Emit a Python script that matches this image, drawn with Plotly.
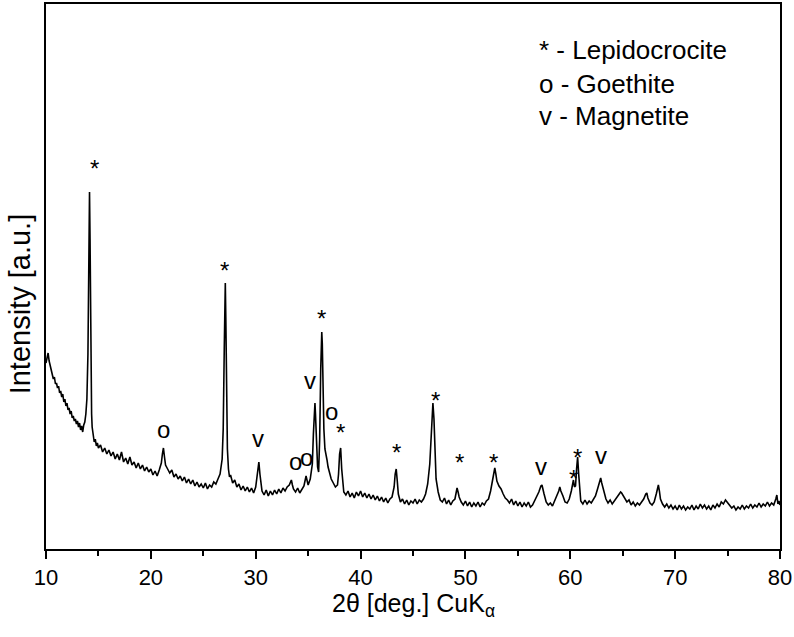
import plotly.graph_objects as go

# ---------------- data ----------------
two_theta = [
    10.0, 10.1, 10.2, 10.3, 10.4, 10.5, 10.6, 10.7, 10.8, 10.9,
    11.0, 11.1, 11.2, 11.3, 11.4, 11.5, 11.6, 11.7, 11.8, 11.9,
    12.0, 12.1, 12.2, 12.3, 12.4, 12.5, 12.6, 12.7, 12.8, 12.9,
    13.0, 13.1, 13.2, 13.3, 13.4, 13.5, 13.6, 13.7, 13.8, 13.9,
    14.0, 14.05, 14.1, 14.15, 14.2, 14.25, 14.3, 14.35, 14.4, 14.5,
    14.6, 14.7, 14.8, 14.9,
    15.0, 15.2, 15.4, 15.6, 15.8, 16.0, 16.2, 16.4, 16.6, 16.8,
    17.0, 17.2, 17.4, 17.6, 17.8, 18.0, 18.2, 18.4, 18.6, 18.8,
    19.0, 19.2, 19.4, 19.6, 19.8, 20.0, 20.2, 20.4, 20.6, 20.8,
    21.0, 21.1, 21.2, 21.3, 21.4, 21.6, 21.8, 22.0, 22.2, 22.4,
    22.6, 22.8, 23.0, 23.2, 23.4, 23.6, 23.8, 24.0, 24.2, 24.4,
    24.6, 24.8, 25.0, 25.2, 25.4, 25.6, 25.8, 26.0, 26.2, 26.4,
    26.6, 26.8, 26.9, 27.0, 27.05, 27.1, 27.15, 27.2, 27.3, 27.4,
    27.5, 27.6, 27.8, 28.0, 28.2, 28.4, 28.6, 28.8, 29.0, 29.2,
    29.4, 29.6, 29.8, 30.0, 30.1, 30.2, 30.3, 30.4, 30.5, 30.6,
    30.8, 31.0, 31.2, 31.4, 31.6, 31.8, 32.0, 32.2, 32.4, 32.6,
    32.8, 33.0, 33.2, 33.4, 33.5, 33.6, 33.8, 34.0, 34.2, 34.4,
    34.6, 34.8, 34.9, 35.0, 35.2, 35.4, 35.5, 35.6, 35.65, 35.7,
    35.8, 35.9, 36.0, 36.1, 36.2, 36.3, 36.35, 36.4, 36.5, 36.6,
    36.7, 36.8, 36.9, 37.0, 37.2, 37.4, 37.6, 37.8, 37.9, 38.0,
    38.1, 38.2, 38.3, 38.4, 38.6, 38.8, 39.0, 39.2, 39.4, 39.6,
    39.8, 40.0, 40.2, 40.4, 40.6, 40.8, 41.0, 41.2, 41.4, 41.6,
    41.8, 42.0, 42.2, 42.4, 42.6, 42.8, 43.0, 43.2, 43.3, 43.4,
    43.5, 43.6, 43.8, 44.0, 44.2, 44.4, 44.6, 44.8, 45.0, 45.2,
    45.4, 45.6, 45.8, 46.0, 46.2, 46.4, 46.6, 46.7, 46.8, 46.9,
    47.0, 47.1, 47.2, 47.4, 47.6, 47.8, 48.0, 48.2, 48.4, 48.6,
    48.8, 49.0, 49.2, 49.3, 49.4, 49.6, 49.8, 50.0, 50.2, 50.4,
    50.6, 50.8, 51.0, 51.2, 51.4, 51.6, 51.8, 52.0, 52.2, 52.4,
    52.6, 52.8, 52.9, 53.0, 53.2, 53.4, 53.6, 53.8, 54.0, 54.2,
    54.4, 54.6, 54.8, 55.0, 55.2, 55.4, 55.6, 55.8, 56.0, 56.2,
    56.4, 56.6, 56.8, 57.0, 57.2, 57.3, 57.5, 57.7, 57.9, 58.1,
    58.3, 58.5, 58.7, 58.9, 59.0, 59.1, 59.3, 59.5, 59.7, 59.9,
    60.1, 60.3, 60.4, 60.5, 60.6, 60.7, 60.8, 60.9, 61.0, 61.2,
    61.4, 61.6, 61.8, 62.0, 62.2, 62.4, 62.6, 62.8, 62.9, 63.0,
    63.2, 63.4, 63.6, 63.8, 64.0, 64.2, 64.4, 64.6, 64.8, 64.9,
    65.0, 65.2, 65.4, 65.6, 65.8, 66.0, 66.2, 66.4, 66.6, 66.8,
    67.0, 67.2, 67.3, 67.4, 67.6, 67.8, 68.0, 68.2, 68.4, 68.5,
    68.6, 68.8, 69.0, 69.2, 69.4, 69.6, 69.8, 70.0, 70.2, 70.4,
    70.6, 70.8, 71.0, 71.2, 71.4, 71.6, 71.8, 72.0, 72.2, 72.4,
    72.6, 72.8, 73.0, 73.2, 73.4, 73.6, 73.8, 74.0, 74.2, 74.4,
    74.6, 74.8, 75.0, 75.2, 75.4, 75.6, 75.8, 76.0, 76.2, 76.4,
    76.6, 76.8, 77.0, 77.2, 77.4, 77.6, 77.8, 78.0, 78.2, 78.4,
    78.6, 78.8, 79.0, 79.2, 79.4, 79.6, 79.7, 79.8, 79.9, 80.0,
]

intensity = [
    186, 192, 196, 188, 183, 178, 176, 170, 172, 165,
    166, 161, 163, 156, 158, 152, 155, 147, 150, 143,
    146, 139, 141, 135, 138, 131, 133, 128, 130, 125,
    128, 122, 126, 119, 123, 117, 124, 127, 135, 150,
    195, 260, 330, 357, 310, 225, 165, 135, 122, 112,
    107, 110, 103, 106,
    101, 104, 97, 101, 95, 99, 93, 97, 90, 95,
    89, 97, 87, 91, 85, 92, 84, 87, 81, 86,
    80, 84, 78, 82, 77, 80, 74, 78, 73, 79,
    86, 95, 101, 92, 84, 80, 76, 79, 72, 75,
    70, 73, 68, 72, 66, 70, 65, 69, 63, 67,
    62, 65, 61, 66, 60, 64, 62, 67, 65, 70,
    75, 90, 120, 200, 245, 266, 230, 160, 100, 80,
    72, 74, 66, 69, 62, 65, 59, 63, 58, 62,
    57, 61, 56, 62, 70, 80, 87, 75, 63, 58,
    54, 59, 53, 58, 54, 59, 55, 60, 56, 61,
    58, 62, 64, 69, 64, 60, 57, 61, 56, 60,
    63, 73, 66, 64, 70, 85, 115, 143, 146, 135,
    100, 82, 77, 110, 180, 217, 205, 165, 120, 100,
    92, 89, 82, 78, 70, 66, 62, 64, 75, 95,
    101, 80, 64, 57, 54, 58, 52, 56, 51, 57,
    53, 58, 52, 56, 51, 55, 50, 54, 49, 53,
    48, 52, 47, 51, 46, 50, 52, 62, 75, 80,
    68, 55, 47, 50, 45, 49, 44, 48, 46, 50,
    45, 49, 47, 50, 55, 65, 85, 110, 135, 146,
    130, 95, 70, 57, 49, 47, 51, 45, 49, 44,
    48, 50, 61, 57, 52, 47, 44, 48, 43, 47,
    42, 46, 43, 47, 42, 46, 44, 48, 50, 58,
    70, 81, 75, 68, 63, 60, 55, 51, 49, 46,
    50, 44, 48, 43, 47, 42, 46, 43, 47, 42,
    44, 48, 52, 57, 63, 64, 55, 47, 44, 46,
    43, 48, 52, 58, 62, 58, 53, 47, 46, 50,
    58, 69, 62, 63, 80, 92, 75, 55, 48, 45,
    49, 45, 48, 46, 50, 53, 60, 68, 71, 66,
    57, 50, 46, 49, 45, 48, 50, 53, 57, 56,
    54, 50, 47, 49, 44, 47, 43, 46, 44, 47,
    50, 55, 56, 51, 46, 44, 47, 55, 64, 58,
    50, 45, 42, 45, 41, 44, 40, 43, 39, 44,
    40, 43, 39, 42, 40, 44, 39, 43, 40, 45,
    41, 44, 40, 43, 39, 44, 41, 45, 42, 47,
    45, 49, 46, 44, 41, 43, 39, 42, 40, 44,
    40, 43, 41, 45, 41, 44, 42, 46, 42, 45,
    43, 47, 43, 46, 44, 50, 54, 45, 48, 44,
]

# phase markers placed above the peaks
marker_symbols = ["*", "o", "*", "v", "o", "o", "v", "*", "o", "*",
                  "*", "*", "*", "*", "v", "*", "*", "v"]
marker_x = [14.67, 21.16, 27.07, 30.22, 33.75, 34.89, 35.18, 36.23, 37.27, 38.13,
            43.47, 47.19, 49.48, 52.72, 57.21, 60.26, 60.64, 62.93]
marker_y = [386, 118, 284, 109, 86, 90, 167, 236, 136, 122,
            102, 154, 92, 92, 81, 76, 97, 92]

legend_lines = ["* - Lepidocrocite", "o - Goethite", "v - Magnetite"]

x_title = "2θ [deg.] CuK<sub>α</sub>"
y_title = "Intensity [a.u.]"
x_ticks = [10, 20, 30, 40, 50, 60, 70, 80]

# ---------------- figure ----------------
FONT = "Liberation Sans, Arial, sans-serif"

fig = go.Figure()
fig.add_trace(go.Scatter(
    x=two_theta, y=intensity, mode="lines",
    line=dict(color="black", width=1.6),
    hoverinfo="skip", showlegend=False,
))

sym_shift = {"*": -5, "o": 2, "v": 2}
for s, mx, my in zip(marker_symbols, marker_x, marker_y):
    fig.add_annotation(x=mx, y=my, text=s, showarrow=False,
                       xanchor="center", yanchor="middle",
                       yshift=sym_shift[s],
                       font=dict(family=FONT, size=24, color="black"))

legend_y = [0.915, 0.853, 0.795]
for txt, ly in zip(legend_lines, legend_y):
    fig.add_annotation(x=0.669, y=ly, xref="paper", yref="paper",
                       text=txt, showarrow=False, xanchor="left",
                       yanchor="middle",
                       font=dict(family=FONT, size=26, color="black"))

# axis titles as annotations for precise placement
fig.add_annotation(x=0.5, y=-0.103, xref="paper", yref="paper",
                   text=x_title, showarrow=False,
                   xanchor="center", yanchor="middle",
                   font=dict(family=FONT, size=25, color="black"))
fig.add_annotation(x=-0.036, y=0.45, xref="paper", yref="paper",
                   text=y_title, showarrow=False, textangle=-90,
                   xanchor="center", yanchor="middle",
                   font=dict(family=FONT, size=29, color="black"))

fig.update_layout(
    width=794, height=637,
    margin=dict(l=46, r=14, t=4, b=88, autoexpand=False),
    paper_bgcolor="white", plot_bgcolor="white",
    font=dict(family=FONT, color="black"),
    showlegend=False,
)
fig.update_xaxes(
    range=[10, 80], tickvals=x_ticks, automargin=False,
    ticks="outside", ticklen=8, tickwidth=1.5, tickcolor="black",
    minor=dict(dtick=5, tick0=5, ticks="outside", ticklen=5,
               tickwidth=1.5, tickcolor="black"),
    showline=True, linecolor="black", linewidth=1.6, mirror=True,
    showgrid=False, zeroline=False,
    tickfont=dict(family=FONT, size=22, color="black"),
)
fig.update_yaxes(
    range=[0, 545], showticklabels=False, ticks="", automargin=False,
    showline=True, linecolor="black", linewidth=1.6, mirror=True,
    showgrid=False, zeroline=False,
)

fig.write_html(
    "out.html",
    config={"displayModeBar": False},
    post_script="document.body.style.margin='0';document.body.style.padding='0';",
)
